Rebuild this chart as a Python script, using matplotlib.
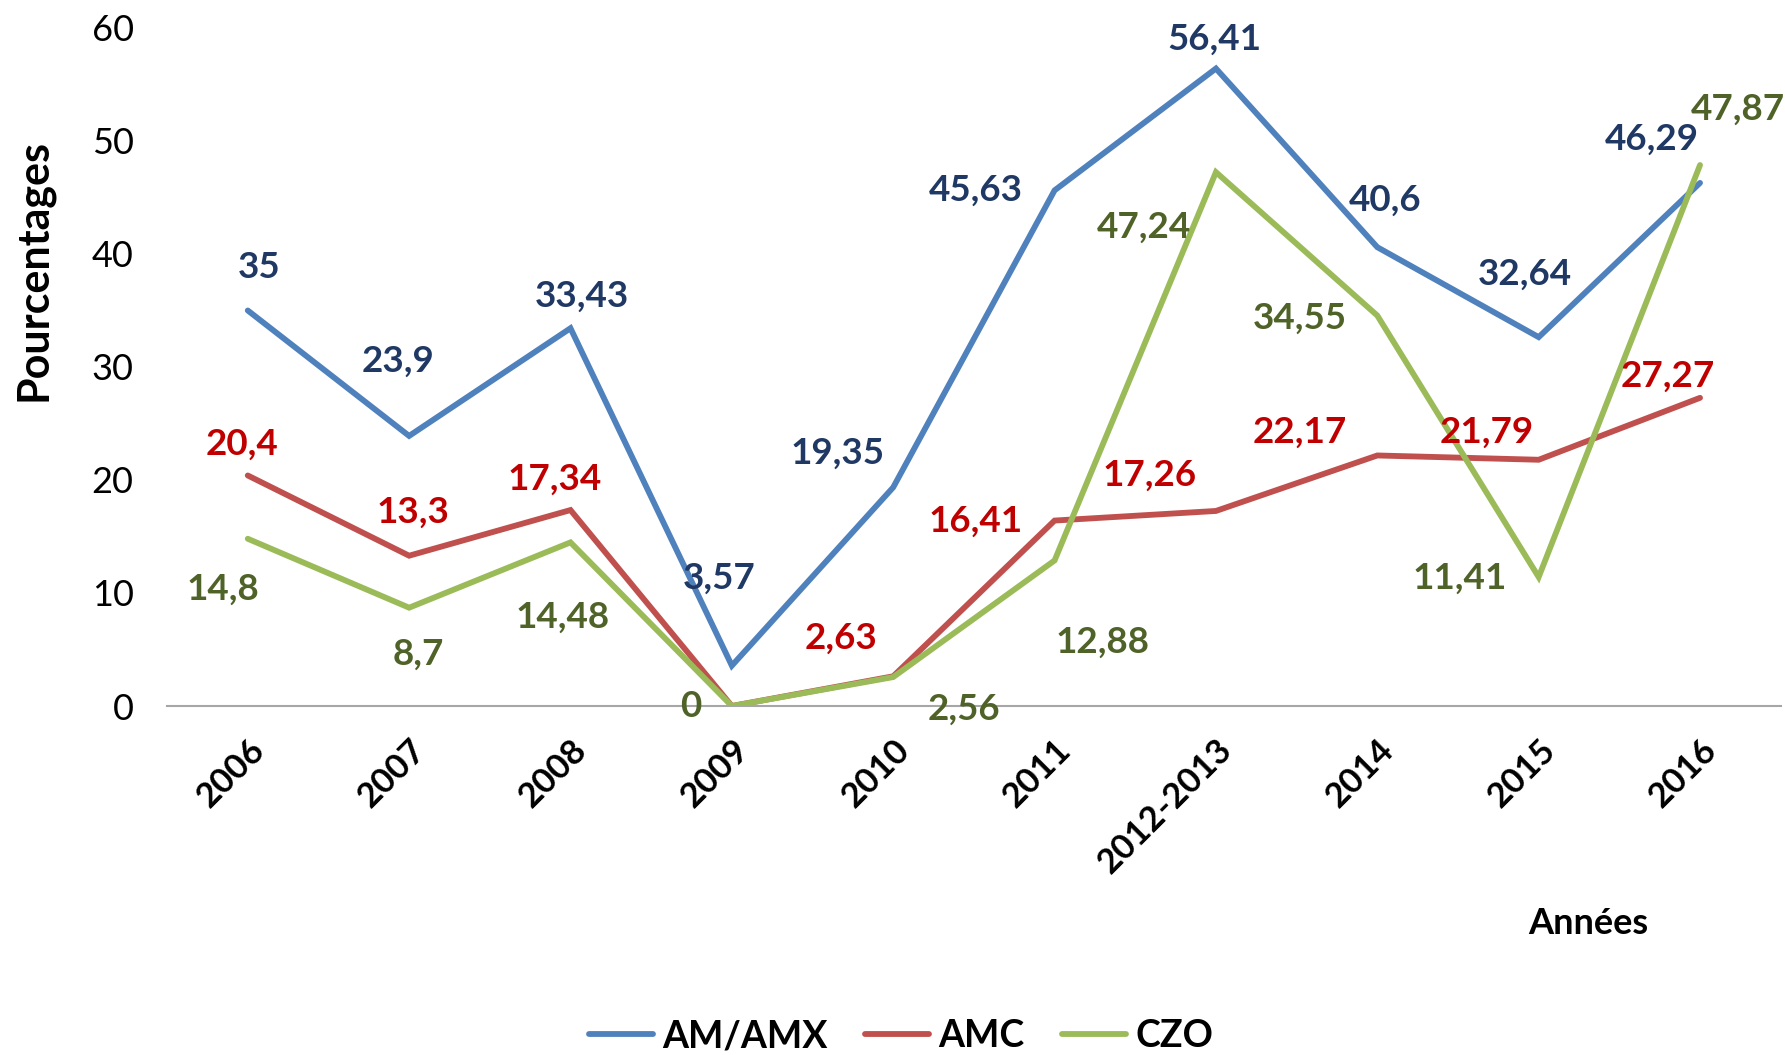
import matplotlib
matplotlib.use("Agg")
import matplotlib.pyplot as plt

plt.rcParams['font.family'] = ['Lato', 'DejaVu Sans']

categories = ["2006", "2007", "2008", "2009", "2010", "2011", "2012-2013", "2014", "2015", "2016"]
am_amx = [35, 23.9, 33.43, 3.57, 19.35, 45.63, 56.41, 40.6, 32.64, 46.29]
amc = [20.4, 13.3, 17.34, 0, 2.63, 16.41, 17.26, 22.17, 21.79, 27.27]
czo = [14.8, 8.7, 14.48, 0, 2.56, 12.88, 47.24, 34.55, 11.41, 47.87]
series_names = ["AM/AMX", "AMC", "CZO"]

# label offsets (pixels in reference-shown scale), None = no label
off_am = [(10, -38), (-10, -66), (10, -28), (-11, -77), (-49, -30), (-69, 0), (-1, -26), (7, -41), (-12, -55), (-42, -38)]
off_amc = [(-5, -27), (3, -38), (-14, -27), None, (-46, -33), (-69, 1), (-58, -31), (-68, -20), (-46, -24), (-28, -19)]
off_czo = [(-22, 44), (8, 41), (-7, 66), (-36, 0), (62, 28), (42, 72), (-63, 48), (-68, 2), (-69, 1), (33, -49)]

line_colors = ["#4F81BD", "#C0504D", "#9BBB59"]
label_colors = ["#1F3864", "#C00000", "#4F6228"]

fig = plt.figure(figsize=(17.85, 10.55), dpi=100)
ax = fig.add_axes([0.0936, 0.3308, 0.904, 0.6427])
x = list(range(len(categories)))
S = 1.1384

def fmt(v):
    return ("%g" % v).replace(".", ",")

for vals, offs, lc, tc, name in zip([am_amx, amc, czo], [off_am, off_amc, off_czo], line_colors, label_colors, series_names):
    ax.plot(x, vals, color=lc, lw=4.2, label=name, solid_joinstyle='miter', solid_capstyle='round')
    for xi, v, o in zip(x, vals, offs):
        if o is None:
            continue
        ax.annotate(fmt(v), (xi, v), xytext=(o[0] * S, -o[1] * S), textcoords='offset pixels',
                    ha='center', va='center', fontsize=26.5, fontweight='bold', color=tc)

ax.set_xlim(-0.5, 9.5)
ax.set_ylim(0, 60)
ax.set_yticks([0, 10, 20, 30, 40, 50, 60])
ax.set_xticks(x)
ax.set_xticklabels(categories, rotation=45, ha='right', rotation_mode='anchor', fontweight='bold', fontsize=25)
ax.tick_params(axis='both', length=0)
ax.tick_params(axis='y', labelsize=26, pad=24)
ax.tick_params(axis='x', pad=20)
for s in ['top', 'right', 'left']:
    ax.spines[s].set_visible(False)
ax.spines['bottom'].set_color('#A6A6A6')
ax.spines['bottom'].set_linewidth(1.5)

ax.set_ylabel("Pourcentages", fontsize=31, fontweight='bold')
ax.yaxis.set_label_coords(-0.0706, 0.643)

fig.text(1588 / 1785, 1 - 923 / 1055, "Années", fontsize=26, fontweight='bold', ha='center', va='center')

fig.legend(loc='center', bbox_to_anchor=(0.505, 0.018), ncol=3, frameon=False,
           prop={'size': 27, 'weight': 'bold'},
           handlelength=1.7, handletextpad=0.25, columnspacing=1.0)

fig.savefig("out.png", dpi=100)
